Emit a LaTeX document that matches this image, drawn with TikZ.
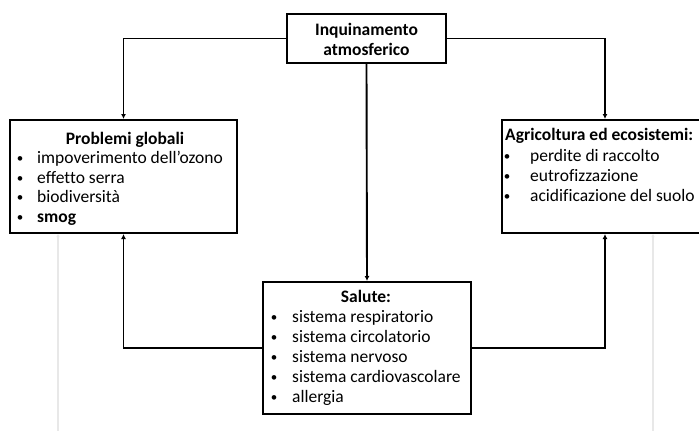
\documentclass[tikz,border=0pt]{standalone}
\usepackage{fontspec}
\setmainfont{Carlito}[Ligatures={NoCommon}]
\usetikzlibrary{arrows.meta}
\begin{document}
\begin{tikzpicture}[x=1pt,y=-1pt,
  box/.style={draw=black,line width=2pt,rectangle,inner sep=0pt},
  conn/.style={line width=1.9pt,-{Latex[length=5pt,width=5pt]}},
  ghost/.style={draw=black!9,line width=1.8pt,-{Latex[length=3pt,width=3.5pt]}},
  txt/.style={anchor=base west,inner sep=0pt,font=\fontsize{17.5}{20}\selectfont},
  ttl/.style={anchor=base,inner sep=0pt,font=\fontsize{17.5}{20}\selectfont\bfseries},
  bul/.style={anchor=base,inner sep=0pt,font=\fontsize{13}{20}\selectfont}]
\clip (0,0) rectangle (699,431);
\fill[white] (0,0) rectangle (699,431);
% boxes
\node[box,minimum width=159pt,minimum height=49pt] (top) at (366.5,38.5) {};
\node[box,minimum width=227pt,minimum height=113pt] (left) at (123.5,176.5) {};
\node[box,minimum width=206pt,minimum height=113pt] (right) at (605,176.5) {};
\node[box,minimum width=208pt,minimum height=132pt] (salute) at (367,348) {};
% connectors
\draw[conn] (top.west) -| (left.north);
\draw[conn] (top.east) -| (right.north);
\draw[conn] (top.south) -- (salute.north);
\draw[conn] (salute.west) -| (left.south);
\draw[conn] (salute.east) -| (right.south);
% faint lines
\coordinate (g1) at (58,432);
\coordinate (g2) at (653,432);
\draw[ghost] (g1) -- (g1 |- left.south);
\draw[ghost] (g2) -- (g2 |- right.south);
% top text
\node[ttl] (t1) at (366.5,35) {Inquinamento};
\node[ttl] (t2) at (366.5,55) {atmosferico};
% left text
\node[ttl] (l0) at (125,144) {Problemi globali};
\node[bul] (lb1) at (20,162.5) {•};
\node[txt] (l1) at (37,163.5) {impoverimento dell’ozono};
\node[bul] (lb2) at (20,182) {•};
\node[txt] (l2) at (37,183) {effetto serra};
\node[bul] (lb3) at (20,201.5) {•};
\node[txt] (l3) at (37,202.5) {biodiversità};
\node[bul] (lb4) at (20,221) {•};
\node[txt,font=\fontsize{17.5}{20}\selectfont\bfseries] (l4) at (37,222) {smog};
% right text
\node[txt,font=\fontsize{17.5}{20}\selectfont\bfseries] (r0) at (505,140) {Agricoltura ed ecosistemi:};
\node[bul] (rb1) at (507,160) {•};
\node[txt] (r1) at (530,161) {perdite di raccolto};
\node[bul] (rb2) at (507,180) {•};
\node[txt] (r2) at (530,181) {eutrofizzazione};
\node[bul] (rb3) at (507,200) {•};
\node[txt] (r3) at (530,201) {acidificazione del suolo};
% salute text
\node[ttl] (s0) at (366,302) {Salute:};
\node[bul] (sb1) at (274,321) {•};
\node[txt] (s1) at (292,322) {sistema respiratorio};
\node[bul] (sb2) at (274,341) {•};
\node[txt] (s2) at (292,342) {sistema circolatorio};
\node[bul] (sb3) at (274,361) {•};
\node[txt] (s3) at (292,362) {sistema nervoso};
\node[bul] (sb4) at (274,381) {•};
\node[txt] (s4) at (292,382) {sistema cardiovascolare};
\node[bul] (sb5) at (274,401) {•};
\node[txt] (s5) at (292,402) {allergia};
\end{tikzpicture}
\end{document}
